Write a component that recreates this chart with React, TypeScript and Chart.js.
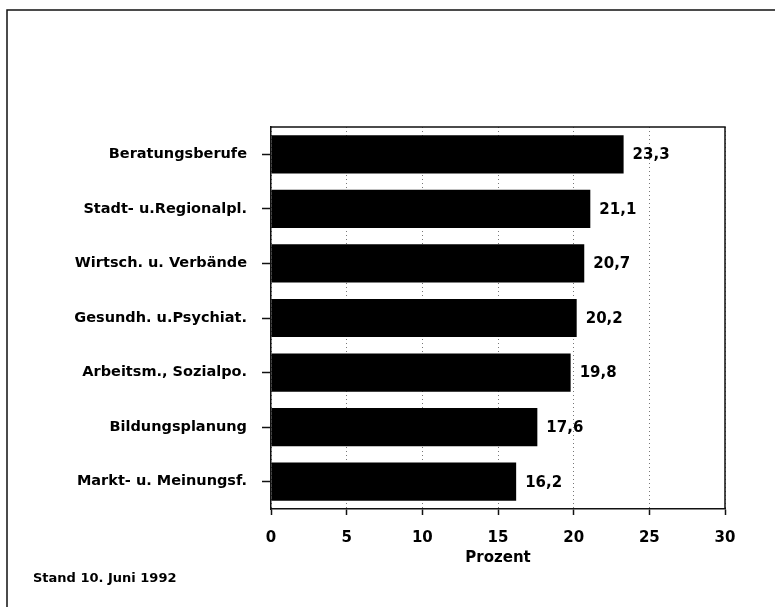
import React, { useEffect, useRef } from "react";
import { Chart, registerables } from "chart.js";

Chart.register(...registerables);

const categories = [
  "Beratungsberufe",
  "Stadt- u.Regionalpl.",
  "Wirtsch. u. Verbände",
  "Gesundh. u.Psychiat.",
  "Arbeitsm., Sozialpo.",
  "Bildungsplanung",
  "Markt- u. Meinungsf.",
];
const values = [23.3, 21.1, 20.7, 20.2, 19.8, 17.6, 16.2];
const xTicks = [0, 5, 10, 15, 20, 25, 30];
const axisTitle = "Prozent";
const footnote = "Stand 10. Juni 1992";

const FONT = "'DejaVu Sans', sans-serif";

const fmt = (v: number) => v.toFixed(1).replace(".", ",");

const decorPlugin = {
  id: "decor",
  beforeDraw(chart: any) {
    const { ctx } = chart;
    ctx.save();
    ctx.fillStyle = "#ffffff";
    ctx.fillRect(0, 0, chart.width, chart.height);
    // outer frame
    ctx.strokeStyle = "#111";
    ctx.lineWidth = 1.5;
    ctx.beginPath();
    ctx.moveTo(7, chart.height);
    ctx.lineTo(7, 10);
    ctx.lineTo(chart.width, 10);
    ctx.stroke();
    ctx.restore();
  },
  afterDatasetsDraw(chart: any) {
    const { ctx, chartArea } = chart;
    ctx.save();
    // top and right borders of plot area
    ctx.strokeStyle = "#111";
    ctx.lineWidth = 1.5;
    ctx.setLineDash([]);
    ctx.beginPath();
    ctx.moveTo(chartArea.left, chartArea.top);
    ctx.lineTo(chartArea.right, chartArea.top);
    ctx.lineTo(chartArea.right, chartArea.bottom);
    ctx.stroke();
    // value labels
    const meta = chart.getDatasetMeta(0);
    ctx.fillStyle = "#000";
    ctx.font = `bold 15px ${FONT}`;
    ctx.textAlign = "left";
    ctx.textBaseline = "middle";
    meta.data.forEach((bar: any, i: number) => {
      ctx.fillText(fmt(values[i]), bar.x + 9, bar.y + 1);
    });
    // footnote
    ctx.font = `bold 13px ${FONT}`;
    ctx.textBaseline = "middle";
    ctx.fillText(footnote, 33, 579);
    ctx.restore();
  },
};

export default function App() {
  const ref = useRef<HTMLCanvasElement | null>(null);
  useEffect(() => {
    if (!ref.current) return;
    const chart = new Chart(ref.current, {
      type: "bar",
      data: {
        labels: categories,
        datasets: [
          {
            data: values,
            backgroundColor: "#000",
            borderWidth: 0,
            categoryPercentage: 0.7,
            barPercentage: 1,
          },
        ],
      },
      options: {
        indexAxis: "y",
        animation: false,
        responsive: false,
        maintainAspectRatio: false,
        layout: { padding: { left: 0, right: 50, top: 127, bottom: 40 } },
        plugins: {
          legend: { display: false },
          tooltip: { enabled: false },
        },
        scales: {
          x: {
            min: 0,
            max: 30,
            afterBuildTicks: (scale: any) => {
              scale.ticks = xTicks.map((v) => ({ value: v }));
            },
            afterFit: (scale: any) => {
              scale.height = 58;
            },
            border: { display: true, color: "#111", width: 1.5, dash: [1, 3] },
            grid: {
              display: true,
              drawOnChartArea: true,
              color: "#777",
              lineWidth: 1,
              tickColor: "#111",
              tickLength: 6,
              tickBorderDash: [],
              tickWidth: 1.5,
            },
            ticks: {
              color: "#000",
              font: { family: FONT, size: 15, weight: "bold" },
              padding: 14,
              maxRotation: 0,
            },
            title: {
              display: true,
              text: axisTitle,
              color: "#000",
              font: { family: FONT, size: 15, weight: "bold" },
              padding: { top: 0, bottom: 0 },
            },
          },
          y: {
            afterFit: (scale: any) => {
              scale.width = 271;
            },
            border: { display: true, color: "#111", width: 1.5 },
            grid: {
              display: true,
              offset: false,
              drawOnChartArea: false,
              tickColor: "#111",
              tickLength: 9,
              tickWidth: 1.5,
            },
            ticks: {
              color: "#000",
              font: { family: FONT, size: 14.5, weight: "bold" },
              padding: 15,
            },
          },
        },
      },
      plugins: [decorPlugin],
    } as any);
    return () => chart.destroy();
  }, []);
  return (
    <div style={{ position: "absolute", left: 0, top: 0, width: 775, height: 607, background: "#fff" }}>
      <canvas ref={ref} width={775} height={607} style={{ width: 775, height: 607, display: "block" }} />
    </div>
  );
}
